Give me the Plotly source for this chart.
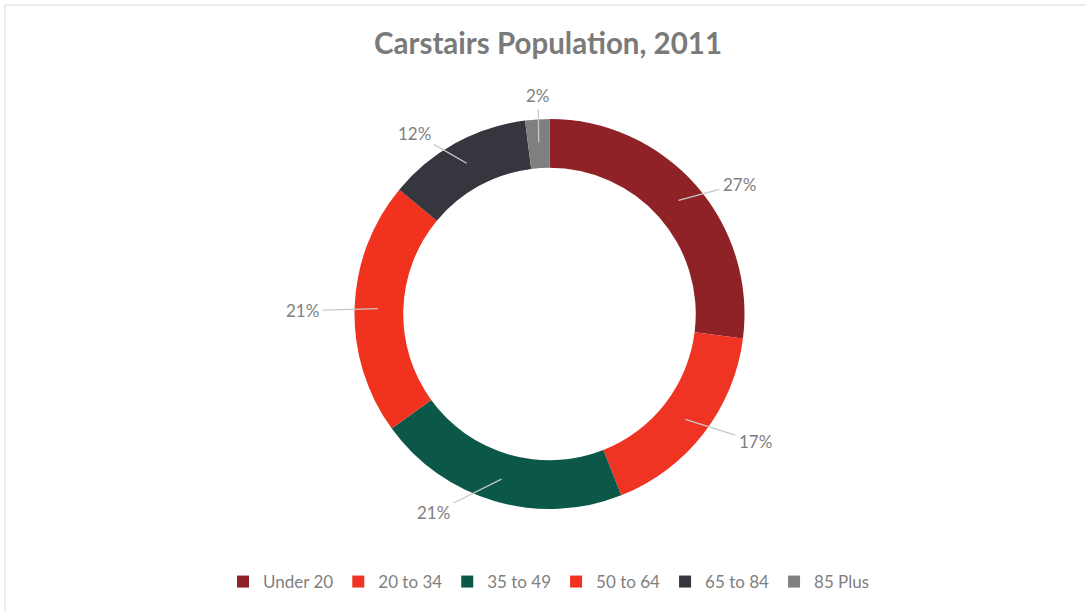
import math
import plotly.graph_objects as go

# Age groups and their share of the population (%)
age_groups = ["Under 20", "20 to 34", "35 to 49", "50 to 64", "65 to 84", "85 Plus"]
shares = [27, 17, 21, 21, 12, 2]

# Slice fills
slice_colors = ["#8e2227", "#ef3424", "#0b5848", "#f0321f", "#35363e", "#7f7f7f"]

# Label placement around the ring: radial distance (px) and angular nudge (deg)
label_radius = [230, 242, 230, 247, 226, 219]
label_nudge = [7, -6, 14, -1, -8, 0.6]

W, H = 1086, 611
cx, cy = 549.5, 314          # ring centre in pixels (from top-left)
R = 195                      # outer radius in pixels
HOLE = 0.75
anchor_r = 172               # where leader lines meet the ring

fig = go.Figure()
fig.add_trace(go.Pie(
    labels=age_groups,
    values=shares,
    hole=HOLE,
    sort=False,
    direction="clockwise",
    rotation=0,
    textinfo="none",
    textposition="none",
    hoverinfo="label+percent",
    marker=dict(colors=slice_colors, line=dict(width=0)),
    domain=dict(
        x=[(cx - R) / W, (cx + R) / W],
        y=[1 - (cy + R) / H, 1 - (cy - R) / H],
    ),
))

# Percentage labels with leader lines, placed from each slice's mid-angle
total = sum(shares)
annotations = []
cum = 0
for val, rad, nudge in zip(shares, label_radius, label_nudge):
    mid = (cum + val / 2) / total * 360
    cum += val
    a = math.radians(mid)
    px = cx + anchor_r * math.sin(a)
    py = cy - anchor_r * math.cos(a)
    b = math.radians(mid + nudge)
    lx = cx + rad * math.sin(b)
    ly = cy - rad * math.cos(b)
    annotations.append(dict(
        x=px / W, y=1 - py / H, xref="paper", yref="paper",
        ax=lx - px, ay=ly - py, axref="pixel", ayref="pixel",
        text=f"{round(val / total * 100)}%",
        showarrow=True, arrowhead=0, arrowwidth=1.3, arrowcolor="#c8c8c8",
        standoff=0, startstandoff=2,
        font=dict(family="Lato", size=17, color="#7f7f7f"),
    ))

fig.update_layout(
    width=W, height=H,
    margin=dict(l=0, r=0, t=0, b=0),
    paper_bgcolor="white",
    plot_bgcolor="white",
    title=dict(
        text="<b>Carstairs Population, 2011</b>",
        x=0.5 + 5 / W, xanchor="center", y=1 - 44 / H, yanchor="middle",
        font=dict(family="Lato", size=29.5, color="#7a7a7a"),
    ),
    legend=dict(
        orientation="h", x=0.5 + 6 / W, xanchor="center",
        y=1 - 582 / H, yanchor="middle",
        font=dict(family="Lato", size=17, color="#7f7f7f"),
        traceorder="normal",
    ),
    annotations=annotations,
    shapes=[dict(
        type="rect", xref="paper", yref="paper",
        x0=5 / W, y0=-0.02, x1=1.02, y1=1 - 5 / H,
        line=dict(color="#d9d9d9", width=1), fillcolor="rgba(0,0,0,0)",
    )],
)

fig.write_html("out.html")
